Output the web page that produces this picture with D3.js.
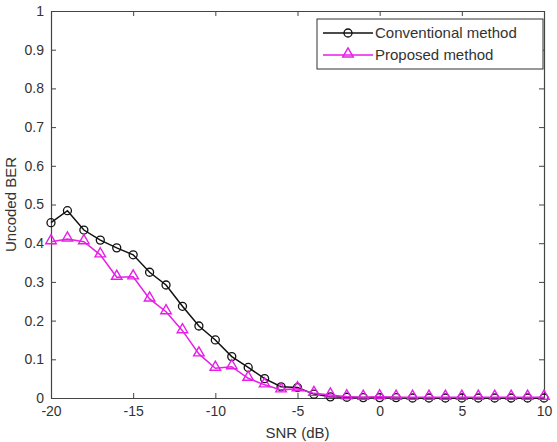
<!DOCTYPE html>
<meta charset="utf-8">
<title>Uncoded BER vs SNR</title>
<style>
body { margin: 0; background: #fff; }
text { font-family: "Liberation Sans", Arial, sans-serif; fill: #333; }
</style>
<script src="https://cdn.jsdelivr.net/npm/d3@7"></script>
<body>
<script>
var width = 557, height = 442;
var margin = {left: 51, right: 13, top: 11, bottom: 44};

var snr = [-20,-19,-18,-17,-16,-15,-14,-13,-12,-11,-10,-9,-8,-7,-6,-5,-4,-3,-2,-1,0,1,2,3,4,5,6,7,8,9,10];
var conventional = [0.453,0.484,0.434,0.408,0.388,0.370,0.325,0.292,0.237,0.186,0.150,0.107,0.079,0.050,0.029,0.027,0.010,0.003,0.002,0.001,0.001,0.001,0,0,0,0,0,0,0,0,0];
var proposed = [0.404,0.411,0.404,0.370,0.312,0.313,0.256,0.223,0.174,0.114,0.077,0.081,0.051,0.034,0.021,0.024,0.012,0.008,0.003,0.002,0.003,0.002,0.002,0.002,0.002,0.002,0.002,0.002,0.002,0.002,0.002];
var xTicks = [-20,-15,-10,-5,0,5,10];
var yTicks = [0,0.1,0.2,0.3,0.4,0.5,0.6,0.7,0.8,0.9,1];
var seriesNames = ["Conventional method", "Proposed method"];

var svg = d3.select("body").append("svg").attr("width", width).attr("height", height);

var x = d3.scaleLinear().domain([-20, 10]).range([margin.left, width - margin.right]);
var y = d3.scaleLinear().domain([0, 1]).range([height - margin.bottom, margin.top]);

// axes, ticks pointing inward on all four sides
svg.append("g").attr("transform", "translate(0," + y(0) + ")")
  .call(d3.axisBottom(x).tickValues(xTicks).tickSizeInner(-5).tickSizeOuter(0).tickPadding(8).tickFormat(function(d){ return String(d); }));
svg.append("g").attr("transform", "translate(" + x(-20) + ",0)")
  .call(d3.axisLeft(y).tickValues(yTicks).tickSizeInner(-5).tickSizeOuter(0).tickPadding(7).tickFormat(function(d){ return d === 0 || d === 1 ? d : d3.format(".1f")(d); }));
svg.append("g").attr("transform", "translate(0," + y(1) + ")")
  .call(d3.axisTop(x).tickValues(xTicks).tickSizeInner(-5).tickSizeOuter(0).tickFormat(""));
svg.append("g").attr("transform", "translate(" + x(10) + ",0)")
  .call(d3.axisRight(y).tickValues(yTicks).tickSizeInner(-5).tickSizeOuter(0).tickFormat(""));

svg.selectAll(".domain").attr("stroke", "#444").attr("stroke-width", 1.2);
svg.selectAll(".tick line").attr("stroke", "#444");
svg.selectAll(".tick text").style("font-size", "14px").attr("fill", "#444");

svg.append("text").attr("x", x(-5)).attr("y", 438).attr("text-anchor", "middle")
  .style("font-size", "15px").attr("fill", "#444").text("SNR (dB)");
svg.append("text").attr("transform", "translate(16," + y(0.5) + ") rotate(-90)")
  .attr("text-anchor", "middle").style("font-size", "15px").attr("fill", "#444").text("Uncoded BER");

var line = d3.line().x(function(d){ return x(d[0]); }).y(function(d){ return y(d[1]); });
var dConv = d3.zip(snr, conventional);
var dProp = d3.zip(snr, proposed);

var tri = d3.symbol().type(d3.symbolTriangle).size(48);

svg.append("path").datum(dConv).attr("d", line).attr("fill", "none").attr("stroke", "#111").attr("stroke-width", 1.5);
svg.selectAll(".circ").data(dConv).enter().append("circle")
  .attr("cx", function(d){ return x(d[0]); }).attr("cy", function(d){ return y(d[1]); })
  .attr("r", 4).attr("fill", "none").attr("stroke", "#111").attr("stroke-width", 1.3);

svg.append("path").datum(dProp).attr("d", line).attr("fill", "none").attr("stroke", "#e61ee6").attr("stroke-width", 1.5);
svg.selectAll(".tri").data(dProp).enter().append("path")
  .attr("d", tri).attr("transform", function(d){ return "translate(" + x(d[0]) + "," + (y(d[1]) - 1) + ")"; })
  .attr("fill", "none").attr("stroke", "#e61ee6").attr("stroke-width", 1.4);

// legend
var lg = svg.append("g").attr("transform", "translate(317,19)");
lg.append("rect").attr("width", 226).attr("height", 50).attr("fill", "#fff").attr("stroke", "#333");
var colors = ["#111", "#e61ee6"];
seriesNames.forEach(function(name, i){
  var yy = 14 + i * 22;
  lg.append("line").attr("x1", 6).attr("x2", 56).attr("y1", yy).attr("y2", yy)
    .attr("stroke", colors[i]).attr("stroke-width", 1.5);
  if (i === 0) {
    lg.append("circle").attr("cx", 31).attr("cy", yy).attr("r", 4).attr("fill", "none").attr("stroke", colors[i]).attr("stroke-width", 1.3);
  } else {
    lg.append("path").attr("d", tri).attr("transform", "translate(31," + (yy - 1) + ")").attr("fill", "none").attr("stroke", colors[i]).attr("stroke-width", 1.4);
  }
  lg.append("text").attr("x", 58).attr("y", yy + 5).style("font-size", "15px").attr("fill", "#444").text(name);
});
</script>
</body>
